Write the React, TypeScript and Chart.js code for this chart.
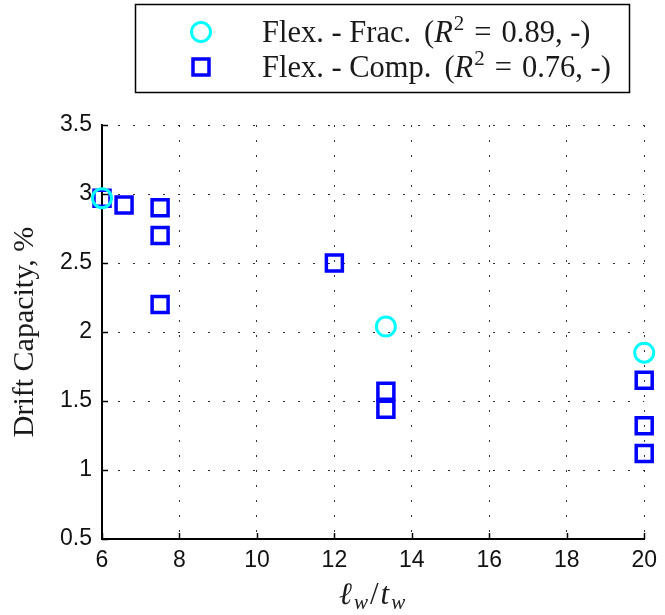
import React, { useEffect, useRef } from 'react';
import { Chart, registerables } from 'chart.js';

Chart.register(...registerables);

// ---- data ----
const fracX = [6, 13.33, 20];
const fracY = [2.97, 2.04, 1.85];
const compX = [6, 6.57, 7.5, 7.5, 7.5, 12, 13.33, 13.33, 20, 20, 20];
const compY = [2.97, 2.92, 2.9, 2.7, 2.2, 2.5, 1.57, 1.44, 1.65, 1.32, 1.12];
const xTicks = [6, 8, 10, 12, 14, 16, 18, 20];
const yTicks = [0.5, 1, 1.5, 2, 2.5, 3, 3.5];
const seriesNames = ['Flex. - Frac.', 'Flex. - Comp.'];
const seriesR2 = ['0.89', '0.76'];
const yTitle = 'Drift Capacity, %';

const SERIF = '"Liberation Serif", "DejaVu Serif", serif';
const SANS = '"Liberation Sans", Arial, sans-serif';
const CYAN = '#00FFFF';
const BLUE = '#0000FF';

const decor = {
  id: 'decor',
  afterDraw(chart: any) {
    const { ctx, chartArea: ca, scales } = chart;
    const xs = scales.x;
    const ys = scales.y;
    ctx.save();
    // inward ticks
    ctx.strokeStyle = '#000';
    ctx.lineWidth = 1.5;
    xTicks.forEach((v) => {
      const px = Math.round(xs.getPixelForValue(v)) + 0.5;
      ctx.beginPath();
      ctx.moveTo(px, ca.bottom);
      ctx.lineTo(px, ca.bottom - 6);
      ctx.stroke();
    });
    yTicks.forEach((v) => {
      const py = Math.round(ys.getPixelForValue(v)) + 0.5;
      ctx.beginPath();
      ctx.moveTo(ca.left, py);
      ctx.lineTo(ca.left + 6, py);
      ctx.stroke();
    });

    // legend box
    ctx.fillStyle = '#fff';
    ctx.fillRect(135, 4, 495, 88);
    ctx.strokeStyle = '#000';
    ctx.lineWidth = 1.5;
    ctx.strokeRect(135.5, 4.5, 494, 88);

    const rows = [32, 67];
    // markers
    ctx.strokeStyle = CYAN;
    ctx.lineWidth = 3;
    ctx.beginPath();
    ctx.arc(201, rows[0], 9.5, 0, Math.PI * 2);
    ctx.stroke();
    ctx.strokeStyle = BLUE;
    ctx.lineWidth = 3.5;
    ctx.strokeRect(201 - 8, rows[1] - 8, 16, 16);

    // legend text
    ctx.fillStyle = '#1a1a1a';
    ctx.textBaseline = 'alphabetic';
    ctx.textAlign = 'left';
    seriesNames.forEach((name, i) => {
      const base = rows[i] + 10;
      let x = 262;
      ctx.font = `30.5px ${SERIF}`;
      ctx.fillText(name, x, base);
      x += ctx.measureText(name).width + 13;
      ctx.fillText('(', x, base);
      x += ctx.measureText('(').width;
      ctx.font = `italic 30.5px ${SERIF}`;
      ctx.fillText('R', x, base);
      x += ctx.measureText('R').width + 1;
      ctx.font = `21px ${SERIF}`;
      ctx.fillText('2', x, base - 12);
      x += ctx.measureText('2').width + 10;
      ctx.font = `30.5px ${SERIF}`;
      ctx.fillText('=', x, base);
      x += ctx.measureText('=').width + 10;
      const post = seriesR2[i] + ', -)';
      ctx.fillText(post, x, base);
    });

    // x axis title: l_w / t_w
    const parts = [
      { t: '\u2113', f: `italic 31px ${SERIF}`, dy: 0 },
      { t: 'w', f: `italic 21px ${SERIF}`, dy: 5 },
      { t: '/', f: `31px ${SERIF}`, dy: 0 },
      { t: 't', f: `italic 31px ${SERIF}`, dy: 0 },
      { t: 'w', f: `italic 21px ${SERIF}`, dy: 5 },
    ];
    let total = 0;
    const widths = parts.map((p) => {
      ctx.font = p.f;
      const w = ctx.measureText(p.t).width + 2;
      total += w;
      return w;
    });
    let tx = (ca.left + ca.right) / 2 - total / 2;
    const tbase = 604;
    parts.forEach((p, i) => {
      ctx.font = p.f;
      ctx.fillText(p.t, tx, tbase + p.dy);
      tx += widths[i];
    });
    ctx.restore();
  },
};

export default function App() {
  const ref = useRef<HTMLCanvasElement | null>(null);
  useEffect(() => {
    document.body.style.margin = '0';
    if (!ref.current) return;
    const chart = new Chart(ref.current, {
      type: 'scatter',
      data: {
        datasets: [
          {
            label: seriesNames[0],
            data: fracX.map((x, i) => ({ x, y: fracY[i] })),
            pointStyle: 'circle',
            pointRadius: 9.5,
            pointBorderWidth: 3,
            borderColor: CYAN,
            pointBorderColor: CYAN,
            backgroundColor: 'rgba(0,0,0,0)',
            pointBackgroundColor: 'rgba(0,0,0,0)',
            clip: false,
          },
          {
            label: seriesNames[1],
            data: compX.map((x, i) => ({ x, y: compY[i] })),
            pointStyle: 'rect',
            pointRadius: 11.3,
            pointBorderWidth: 3.5,
            borderColor: BLUE,
            pointBorderColor: BLUE,
            backgroundColor: 'rgba(0,0,0,0)',
            pointBackgroundColor: 'rgba(0,0,0,0)',
            clip: false,
          },
        ],
      },
      options: {
        animation: false,
        responsive: true,
        maintainAspectRatio: false,
        events: [],
        layout: { padding: { top: 125, right: 17, left: 0, bottom: 0 } },
        plugins: {
          legend: { display: false },
          tooltip: { enabled: false },
        },
        scales: {
          x: {
            type: 'linear',
            min: 6,
            max: 20,
            afterBuildTicks: (s: any) => {
              s.ticks = xTicks.map((v) => ({ value: v }));
            },
            afterFit: (s: any) => {
              s.height = 76;
            },
            grid: { color: 'rgba(0,0,0,0.8)', lineWidth: 1, drawTicks: false },
            border: { display: true, color: '#000', width: 2, dash: [2, 13] },
            ticks: {
              padding: 8,
              color: '#111',
              font: { family: SANS, size: 23 },
              maxRotation: 0,
              callback: (v: any) => String(v),
            },
          },
          y: {
            type: 'linear',
            min: 0.5,
            max: 3.5,
            afterBuildTicks: (s: any) => {
              s.ticks = yTicks.map((v) => ({ value: v }));
            },
            afterFit: (s: any) => {
              s.width = 102;
            },
            grid: { color: 'rgba(0,0,0,0.8)', lineWidth: 1, drawTicks: false },
            border: { display: true, color: '#000', width: 2, dash: [2, 13] },
            ticks: {
              padding: 10,
              color: '#111',
              font: { family: SANS, size: 23 },
              callback: (v: any) => String(v),
            },
            title: {
              display: true,
              text: yTitle,
              color: '#1a1a1a',
              font: { family: SERIF, size: 30 },
              padding: { top: 7, bottom: 0 },
            },
          },
        },
      },
      plugins: [decor],
    } as any);
    return () => chart.destroy();
  }, []);
  return (
    <div style={{ width: 665, height: 615, position: 'relative' }}>
      <canvas ref={ref} />
    </div>
  );
}
